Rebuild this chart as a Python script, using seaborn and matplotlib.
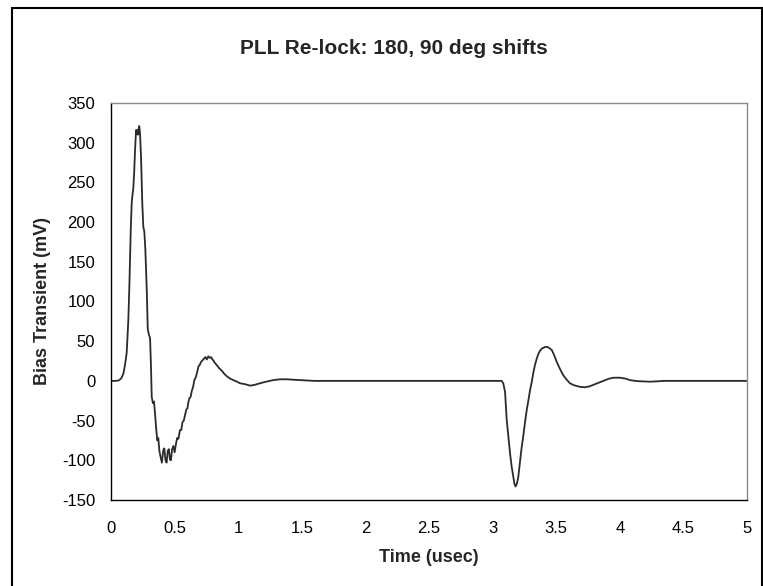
import matplotlib
matplotlib.use("Agg")

import matplotlib.pyplot as plt
import seaborn as sns
from matplotlib.patches import Rectangle

# Data
# first transient (180 deg shift)
time_a = [0, 0.04, 0.06, 0.08, 0.097, 0.11, 0.123, 0.136, 0.144, 0.149, 0.156,
          0.163, 0.170, 0.175, 0.182, 0.189, 0.197, 0.203, 0.208, 0.213, 0.218,
          0.222, 0.228, 0.236, 0.246, 0.254, 0.262, 0.270, 0.281, 0.289, 0.300,
          0.307, 0.314, 0.320, 0.329, 0.338, 0.346, 0.355, 0.364, 0.372, 0.380,
          0.390, 0.400, 0.410, 0.419, 0.428, 0.437, 0.446, 0.455, 0.463, 0.471,
          0.480, 0.490, 0.500, 0.511, 0.520, 0.530, 0.542, 0.552, 0.562, 0.572,
          0.582, 0.592, 0.600, 0.608, 0.616, 0.626, 0.636, 0.645, 0.655, 0.665,
          0.676, 0.687, 0.697, 0.708, 0.720, 0.731, 0.742, 0.753, 0.765, 0.776,
          0.787, 0.796, 0.804, 0.815, 0.831, 0.850, 0.870, 0.890, 0.909, 0.935,
          0.961, 0.990, 1.014, 1.05, 1.093, 1.13, 1.171, 1.22, 1.276, 1.33,
          1.381, 1.43, 1.486, 1.55, 1.6]
bias_a = [0, 0, 0.5, 3, 9, 20, 35, 76, 118, 150, 195,
          225, 236, 242, 262, 291, 316, 311, 316, 310, 318,
          321, 312, 282, 223, 194, 188, 165, 115, 65, 57,
          54, 20, -20, -28, -26, -41, -60, -75, -72, -88,
          -96, -103, -88, -85, -100, -103, -88, -86, -99, -100,
          -86, -82, -90, -79, -72, -73, -62, -62, -52, -50,
          -43, -36, -35, -27, -22, -20, -12, -8, 1, 4,
          10, 18, 20, 24, 26, 28, 30, 27, 31, 29,
          30, 27, 26, 23, 20, 16, 13, 9, 6, 3,
          1, -1, -3, -4, -6, -5, -3, -1, 1, 2,
          2, 1.5, 1, 0.5, 0]

# quiet stretch between the shifts
time_q = [2.0, 2.5, 3.0, 3.06]
bias_q = [0, 0, 0, 0]

# second transient (90 deg shift)
time_b = [3.071, 3.084, 3.098, 3.111, 3.124, 3.137, 3.150, 3.163, 3.172, 3.181,
          3.192, 3.202, 3.215, 3.229, 3.241, 3.255, 3.268, 3.281, 3.294, 3.307,
          3.320, 3.333, 3.347, 3.360, 3.373, 3.39, 3.41, 3.425, 3.44, 3.465,
          3.485, 3.504, 3.53, 3.556, 3.58, 3.608, 3.64, 3.687, 3.726, 3.76,
          3.792, 3.83, 3.870, 3.91, 3.949, 4.002, 4.04, 4.080, 4.12, 4.159,
          4.237, 4.30, 4.342, 4.6, 5.0]
bias_b = [0, -3, -14, -49, -70, -91, -108, -121, -130, -133,
          -129, -121, -103, -83, -70, -52, -37, -25, -12, -2,
          10, 20, 28, 34, 38, 41, 42.5, 43, 42, 39,
          32, 24, 15, 7, 2, -3, -5.5, -7.5, -8, -7,
          -5, -2.5, 0, 2.5, 4, 4, 3, 1, 0, -0.5,
          -1, -0.5, 0, 0, 0]

time_us = time_a + time_q + time_b
bias_mv = bias_a + bias_q + bias_b

x_ticks = [0, 0.5, 1, 1.5, 2, 2.5, 3, 3.5, 4, 4.5, 5]
y_ticks = [-150, -100, -50, 0, 50, 100, 150, 200, 250, 300, 350]

sns.set_style("white")
plt.rcParams['font.family'] = ['Liberation Sans', 'DejaVu Sans']

fig = plt.figure(figsize=(7.63, 5.86), dpi=100)
ax = fig.add_axes([0.1455, 0.1468, 0.8335, 0.6774])

sns.lineplot(x=time_us, y=bias_mv, ax=ax, color='#2b2b2b', linewidth=1.3,
             sort=False, estimator=None)

ax.set_xlim(0, 5)
ax.set_ylim(-150, 350)
ax.set_xticks(x_ticks)
ax.set_xticklabels([f"{t:g}" for t in x_ticks])
ax.set_yticks(y_ticks)
ax.set_yticklabels([str(v) for v in y_ticks])
ax.tick_params(axis='both', direction='out', length=4.3, width=0.9,
               color='black', labelsize=12, labelcolor='black')
ax.tick_params(axis='x', pad=11)
ax.tick_params(axis='y', pad=7)

for side in ['left', 'bottom']:
    ax.spines[side].set_color('black')
    ax.spines[side].set_linewidth(1.0)
for side in ['top', 'right']:
    ax.spines[side].set_color('#8c8c8c')
    ax.spines[side].set_linewidth(1.0)

ax.set_xlabel('Time (usec)', fontsize=13, fontweight='bold', va='center')
ax.xaxis.set_label_coords(0.5, -0.146)
ax.set_ylabel('Bias Transient (mV)', fontsize=13, fontweight='bold', va='center')
ax.yaxis.set_label_coords(-0.107, 0.5)

fig.text(0.516, 1 - 49 / 586, 'PLL Re-lock: 180, 90 deg shifts', ha='center',
         va='center', fontsize=15, fontweight='bold')

# chart-area frame
fig.patches.append(Rectangle((12 / 763, -0.02), 750 / 763, 1.02 - 8 / 586,
                             transform=fig.transFigure, fill=False,
                             edgecolor='black', linewidth=1.5))

fig.savefig('out.png', dpi=100)
plt.close(fig)
